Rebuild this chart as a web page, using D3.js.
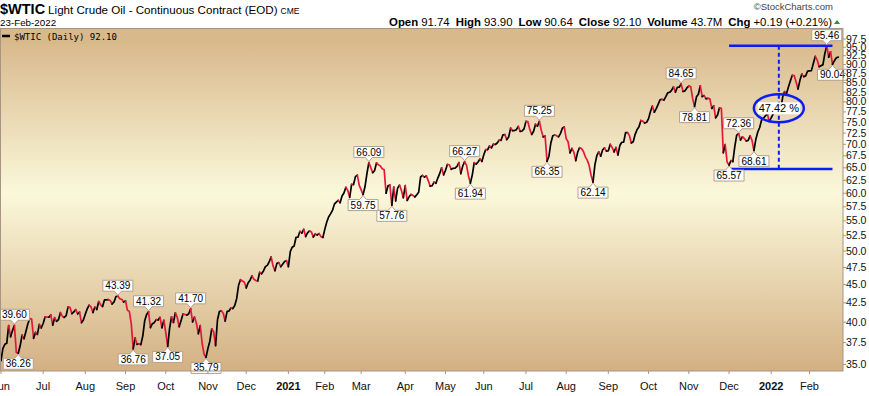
<!DOCTYPE html>
<html>
<head>
<meta charset="utf-8">
<script src="https://cdn.jsdelivr.net/npm/d3@7"></script>
<style>
  body { margin: 0; background: #fff; }
  svg { display: block; font-family: "Liberation Sans", Arial, sans-serif; }
</style>
</head>
<body>
<div class="canvas"></div>
<script>
// daily closes, [month, [[day, close], ...]]
const closes2020 = [
  ['05', [[29, 35.49]]],
  ['06', [[1, 35.44], [2, 36.81], [3, 37.29], [4, 37.41], [5, 39.55], [8, 38.19], [9, 38.94], [10, 39.60], [11, 36.34], [12, 36.26], [15, 37.12], [16, 38.38], [17, 37.96], [18, 38.84], [19, 39.75], [22, 40.46], [23, 40.37], [24, 38.01], [25, 38.72], [26, 38.49], [29, 39.70], [30, 39.27]]],
  ['07', [[1, 39.82], [2, 40.65], [6, 40.63], [7, 40.62], [8, 40.90], [9, 39.62], [10, 40.55], [13, 40.10], [14, 40.29], [15, 41.20], [16, 40.75], [17, 40.59], [20, 40.81], [21, 41.96], [22, 41.90], [23, 41.07], [24, 41.29], [27, 41.60], [28, 41.04], [29, 41.27], [30, 39.92], [31, 40.27]]],
  ['08', [[3, 41.01], [4, 41.70], [5, 42.19], [6, 41.95], [7, 41.22], [10, 41.94], [11, 41.61], [12, 42.67], [13, 42.24], [14, 42.01], [17, 42.89], [18, 42.89], [19, 42.93], [20, 42.82], [21, 42.34], [24, 42.62], [25, 43.35], [26, 43.39], [27, 43.04], [28, 42.97], [31, 42.61]]],
  ['09', [[1, 42.76], [2, 41.51], [3, 41.37], [4, 39.77], [8, 36.76], [9, 38.05], [10, 37.30], [11, 37.33], [14, 37.26], [15, 38.28], [16, 40.16], [17, 40.97], [18, 41.32], [21, 39.31], [22, 39.80], [23, 39.93], [24, 40.31], [25, 40.25], [28, 40.60], [29, 39.29], [30, 40.22]]],
  ['10', [[1, 38.72], [2, 37.05], [5, 39.22], [6, 40.67], [7, 39.95], [8, 41.19], [9, 40.60], [12, 39.43], [13, 40.20], [14, 41.04], [15, 40.96], [16, 40.88], [19, 41.06], [20, 41.70], [21, 40.03], [22, 40.64], [23, 39.85], [26, 38.56], [27, 39.57], [28, 37.39], [29, 36.17], [30, 35.79]]],
  ['11', [[2, 36.81], [3, 37.66], [4, 39.15], [5, 38.79], [6, 37.14], [9, 40.29], [10, 41.36], [11, 41.45], [12, 41.12], [13, 40.13], [16, 41.34], [17, 41.43], [18, 41.82], [19, 41.74], [20, 42.15], [23, 43.06], [24, 44.91], [25, 45.71], [27, 45.53], [30, 45.34]]],
  ['12', [[1, 44.55], [2, 45.28], [3, 45.64], [4, 46.26], [7, 45.76], [8, 45.60], [9, 45.52], [10, 46.78], [11, 46.57], [14, 46.99], [15, 47.62], [16, 47.82], [17, 48.36], [18, 49.10], [21, 47.74], [22, 47.02], [23, 48.12], [24, 48.23], [28, 47.62], [29, 48.00], [30, 48.40], [31, 48.52]]]
]

const closes2021 = [
  ['01', [[4, 47.62], [5, 49.93], [6, 50.63], [7, 50.83], [8, 52.24], [11, 52.25], [12, 53.21], [13, 52.91], [14, 53.57], [15, 52.36], [19, 52.98], [20, 53.31], [21, 53.13], [22, 52.27], [25, 52.77], [26, 52.61], [27, 52.85], [28, 52.34], [29, 52.20]]],
  ['02', [[1, 53.55], [2, 54.76], [3, 55.69], [4, 56.23], [5, 56.85], [8, 57.97], [9, 58.36], [10, 58.68], [11, 58.24], [12, 59.47], [16, 60.05], [17, 61.14], [18, 60.52], [19, 59.24], [22, 61.70], [23, 61.67], [24, 63.22], [25, 63.53], [26, 61.50]]],
  ['03', [[1, 60.64], [2, 59.75], [3, 61.28], [4, 63.83], [5, 66.09], [8, 65.05], [9, 64.01], [10, 64.44], [11, 66.02], [12, 65.61], [15, 65.39], [16, 64.80], [17, 64.60], [18, 60.00], [19, 61.42], [22, 61.55], [23, 57.76], [24, 61.18], [25, 58.56], [26, 60.97], [29, 61.56], [30, 60.55], [31, 59.16]]],
  ['04', [[1, 61.45], [5, 58.65], [6, 59.33], [7, 59.77], [8, 59.60], [9, 59.32], [12, 59.70], [13, 60.18], [14, 63.15], [15, 63.46], [16, 63.13], [19, 63.38], [20, 62.44], [21, 61.35], [22, 61.43], [23, 62.14], [26, 61.91], [27, 62.94], [28, 63.86], [29, 65.01], [30, 63.58]]],
  ['05', [[3, 64.49], [4, 65.69], [5, 65.63], [6, 64.71], [7, 64.90], [10, 64.92], [11, 65.28], [12, 66.08], [13, 63.82], [14, 65.37], [17, 66.27], [18, 65.49], [19, 63.36], [20, 61.94], [21, 63.58], [24, 66.05], [25, 65.76], [26, 66.21], [27, 66.85], [28, 66.32]]],
  ['06', [[1, 67.72], [2, 68.83], [3, 68.81], [4, 69.62], [7, 69.23], [8, 70.05], [9, 69.96], [10, 70.29], [11, 70.91], [14, 70.88], [15, 72.12], [16, 72.15], [17, 71.04], [18, 71.64], [21, 73.66], [22, 73.06], [23, 73.08], [24, 73.30], [25, 74.05], [28, 72.91], [29, 72.98], [30, 73.47]]],
  ['07', [[1, 75.23], [2, 75.16], [6, 73.37], [7, 72.20], [8, 72.94], [9, 74.56], [12, 74.10], [13, 75.25], [14, 73.13], [15, 71.65], [16, 71.81], [19, 66.35], [20, 67.42], [21, 70.30], [22, 71.91], [23, 72.07], [26, 71.91], [27, 71.65], [28, 72.39], [29, 73.62], [30, 73.95]]],
  ['08', [[2, 71.26], [3, 70.56], [4, 68.15], [5, 69.09], [6, 68.28], [9, 66.48], [10, 68.29], [11, 69.25], [12, 69.09], [13, 68.44], [16, 67.29], [17, 66.59], [18, 65.46], [19, 63.50], [20, 62.14], [23, 65.64], [24, 67.54], [25, 68.36], [26, 67.42], [27, 68.74], [30, 69.21], [31, 68.50]]],
  ['09', [[1, 68.59], [2, 69.99], [3, 69.29], [7, 68.35], [8, 69.30], [9, 67.68], [10, 69.72], [13, 70.45], [14, 70.46], [15, 72.61], [16, 72.61], [17, 71.97], [20, 70.29], [21, 70.56], [22, 72.23], [23, 73.30], [24, 73.98], [27, 75.45], [28, 75.29], [29, 74.83], [30, 75.03]]],
  ['10', [[1, 75.88], [4, 77.62], [5, 78.93], [6, 77.43], [7, 78.30], [8, 79.35], [11, 80.52], [12, 80.64], [13, 80.44], [14, 81.31], [15, 82.28], [18, 82.44], [19, 82.96], [20, 83.87], [21, 82.50], [22, 83.76], [25, 83.76], [26, 84.65], [27, 82.66], [28, 82.81], [29, 83.57]]],
  ['11', [[1, 84.05], [2, 83.91], [3, 80.86], [4, 78.81], [5, 81.27], [8, 81.93], [9, 84.15], [10, 81.34], [11, 81.59], [12, 80.79], [15, 80.88], [16, 80.76], [17, 78.36], [18, 79.01], [19, 76.10], [22, 76.75], [23, 78.50], [24, 78.39], [26, 68.15], [29, 69.95], [30, 66.18]]],
  ['12', [[1, 65.57], [2, 66.50], [3, 66.26], [6, 69.49], [7, 72.05], [8, 72.36], [9, 70.94], [10, 71.67], [13, 71.29], [14, 70.73], [15, 70.87], [16, 71.90], [17, 70.86], [20, 68.61], [21, 71.12], [22, 72.76], [23, 73.79], [27, 75.57], [28, 75.98], [29, 76.56], [30, 76.99], [31, 75.21]]]
]

const closes2022 = [
  ['01', [[3, 76.08], [4, 76.99], [5, 77.85], [6, 79.46], [7, 78.90], [10, 78.23], [11, 81.22], [12, 82.64], [13, 82.12], [14, 83.82], [18, 85.43], [19, 86.96], [20, 86.90], [21, 85.14], [24, 83.31], [25, 85.60], [26, 87.35], [27, 86.61], [28, 86.82], [31, 88.15]]],
  ['02', [[1, 88.20], [2, 88.26], [3, 90.27], [4, 92.31], [7, 91.32], [8, 89.36], [9, 89.66], [10, 89.88], [11, 93.10], [14, 95.46], [15, 92.07], [16, 93.66], [17, 90.04], [18, 91.07], [22, 91.91], [23, 92.10]]]
]

// swing-point price flags
const swingLabels = [
  ['2020-06-10', 'high'], ['2020-06-12', 'low'], ['2020-08-26', 'high'], ['2020-09-08', 'low'],
  ['2020-09-18', 'high'], ['2020-10-02', 'low'], ['2020-10-20', 'high'], ['2020-10-30', 'low'],
  ['2021-03-02', 'low'], ['2021-03-05', 'high'], ['2021-03-23', 'low'], ['2021-05-17', 'high'],
  ['2021-05-20', 'low'], ['2021-07-13', 'high'], ['2021-07-19', 'low'], ['2021-08-20', 'low'],
  ['2021-10-26', 'high'], ['2021-11-04', 'low'], ['2021-12-01', 'low'], ['2021-12-08', 'high'],
  ['2021-12-20', 'low'], ['2022-02-14', 'high'], ['2022-02-17', 'low']
]

// month ticks on the x axis
const xTicks = [
  ['2020-06', 'Jun'], ['2020-07', 'Jul'], ['2020-08', 'Aug'], ['2020-09', 'Sep'], ['2020-10', 'Oct'],
  ['2020-11', 'Nov'], ['2020-12', 'Dec'], ['2021-01', '2021'], ['2021-02', 'Feb'], ['2021-03', 'Mar'],
  ['2021-04', 'Apr'], ['2021-05', 'May'], ['2021-06', 'Jun'], ['2021-07', 'Jul'], ['2021-08', 'Aug'],
  ['2021-09', 'Sep'], ['2021-10', 'Oct'], ['2021-11', 'Nov'], ['2021-12', 'Dec'], ['2022-01', '2022'],
  ['2022-02', 'Feb']
]

const yTicks = [35, 37.5, 40, 42.5, 45, 47.5, 50, 52.5, 55, 57.5, 60, 62.5, 65, 67.5, 70, 72.5, 75, 77.5, 80, 82.5, 85, 87.5, 90, 92.5, 95, 97.5]

// rally measurement (Dec low -> Feb high)
const rangeLines = [
  { from: '2021-12-01', to: '2022-02-17', value: 95.46 },
  { from: '2021-12-01', to: '2022-02-17', value: 64.75 }
]
const rangeMarker = { date: '2022-01-07', low: 64.75, high: 95.46, ellipseValue: 78.4, text: '47.42 %' }

const quoteFields = [
  ['Open', '91.74'], ['High', '93.90'], ['Low', '90.64'], ['Close', '92.10'], ['Volume', '43.7M'], ['Chg', '+0.19 (+0.21%)']
]

// flatten to one series
const series = []
const addYear = (year, months) => months.forEach(([m, days]) =>
  days.forEach(([d, c]) => series.push({ date: `${year}-${m}-${String(d).padStart(2, '0')}`, close: c })))
addYear(2020, closes2020)
addYear(2021, closes2021)
addYear(2022, closes2022)
const idxOf = date => series.findIndex(d => d.date === date)

const dims = { width: 869, height: 396 }
const plot = { left: 0, right: 843, top: 29, bottom: 371 }

const svg = d3.select('.canvas')
  .append('svg')
  .attr('width', dims.width)
  .attr('height', dims.height)

const x = d3.scaleLinear()
  .domain([idxOf('2020-06-01'), idxOf('2022-02-01')])
  .range([1, 809.5])

const y = d3.scaleLog()
  .domain([35, 97.5])
  .range([364.5, 39])

// background gradient
const defs = svg.append('defs')
const grad = defs.append('linearGradient')
  .attr('id', 'bg').attr('x1', 0).attr('x2', 0).attr('y1', 0).attr('y2', 1)
grad.append('stop').attr('offset', '0%').attr('stop-color', '#d6b486')
grad.append('stop').attr('offset', '48%').attr('stop-color', '#fbf8da')
grad.append('stop').attr('offset', '100%').attr('stop-color', '#d3b083')

defs.append('clipPath').attr('id', 'clip')
  .append('rect')
  .attr('x', plot.left).attr('y', plot.top)
  .attr('width', plot.right - plot.left).attr('height', plot.bottom - plot.top)

svg.append('rect')
  .attr('x', plot.left).attr('y', plot.top)
  .attr('width', plot.right - plot.left).attr('height', plot.bottom - plot.top)
  .attr('fill', 'url(#bg)')

// legend band
svg.append('rect')
  .attr('x', plot.left).attr('y', plot.top)
  .attr('width', plot.right - plot.left).attr('height', 15)
  .attr('fill', '#d8b98c')

svg.append('line')
  .attr('x1', 2).attr('x2', 10).attr('y1', 36).attr('y2', 36)
  .attr('stroke', '#000').attr('stroke-width', 2.5)

svg.append('text')
  .attr('x', 14).attr('y', 40)
  .attr('font-family', '"DejaVu Sans Mono", "Liberation Mono", monospace')
  .attr('font-size', 9)
  .attr('fill', '#000')
  .text(`$WTIC (Daily) ${series[series.length - 1].close.toFixed(2)}`)

const graph = svg.append('g').attr('clip-path', 'url(#clip)')

// price line, red on down days, black on up days
const pts = series.map((d, i) => ({ ...d, i }))
const runs = []
for (let i = 1; i < pts.length; i++) {
  const down = pts[i].close < pts[i - 1].close
  const last = runs[runs.length - 1]
  if (last && last.down === down) last.pts.push(pts[i])
  else runs.push({ down, pts: [pts[i - 1], pts[i]] })
}
const line = d3.line()
  .x(({ i }) => x(i))
  .y(({ close }) => y(close))

graph.selectAll('.run')
  .data(runs)
  .enter()
  .append('path')
    .attr('class', 'run')
    .attr('fill', 'none')
    .attr('stroke', ({ down }) => down ? '#e3173a' : '#000')
    .attr('stroke-width', 1.7)
    .attr('stroke-linejoin', 'round')
    .attr('stroke-linecap', 'round')
    .attr('d', ({ pts }) => line(pts))

// measurement lines
rangeLines.forEach(({ from, to, value }) => {
  svg.append('line')
    .attr('x1', x(idxOf(from))).attr('x2', x(idxOf(to)))
    .attr('y1', y(value)).attr('y2', y(value))
    .attr('stroke', '#0b1cf5').attr('stroke-width', 2.5)
})
const mx = x(idxOf(rangeMarker.date))
svg.append('line')
  .attr('x1', mx).attr('x2', mx)
  .attr('y1', y(rangeMarker.high)).attr('y2', y(rangeMarker.low))
  .attr('stroke', '#0b1cf5').attr('stroke-width', 2)
  .attr('stroke-dasharray', '4,3')

const pctText = svg.append('text')
  .attr('x', mx).attr('y', y(rangeMarker.ellipseValue) + 4)
  .attr('text-anchor', 'middle')
  .attr('font-size', 11)
  .text(rangeMarker.text)
const pb = pctText.node().getBBox()
svg.insert('rect', () => pctText.node())
  .attr('x', pb.x - 1).attr('y', pb.y)
  .attr('width', pb.width + 2).attr('height', pb.height)
  .attr('fill', '#fff')
svg.append('ellipse')
  .attr('cx', mx).attr('cy', y(rangeMarker.ellipseValue))
  .attr('rx', 25).attr('ry', 14)
  .attr('fill', 'none')
  .attr('stroke', '#0b1cf5').attr('stroke-width', 2.5)

// swing flags
const flags = svg.append('g')
swingLabels.forEach(([date, kind]) => {
  const i = idxOf(date)
  const px = x(i)
  const py = y(series[i].close)
  const g = flags.append('g')
  const outline = g.append('path')
  const t = g.append('text')
    .attr('font-size', 10)
    .attr('text-anchor', 'middle')
    .attr('x', px)
    .text(series[i].close.toFixed(2))
  const tw = t.node().getComputedTextLength()
  const bw = tw + 5
  const bh = 11
  const bx0 = px - bw / 2
  const bx1 = px + bw / 2
  let d
  if (kind === 'high') {
    const by1 = py - 5
    const by0 = by1 - bh
    d = `M${bx0},${by0}H${bx1}V${by1}H${px + 3.5}L${px},${py - 1}L${px - 3.5},${by1}H${bx0}Z`
    t.attr('y', by1 - 2)
  } else {
    const by0 = py + 5
    const by1 = by0 + bh
    d = `M${bx0},${by0}H${px - 3.5}L${px},${py + 1}L${px + 3.5},${by0}H${bx1}V${by1}H${bx0}Z`
    t.attr('y', by1 - 2)
  }
  outline.attr('d', d).attr('fill', '#fff').attr('stroke', '#b4a08e').attr('stroke-width', 1)
})

// frame
svg.append('rect')
  .attr('x', plot.left + 0.5).attr('y', plot.top - 0.5)
  .attr('width', plot.right - plot.left - 0.5).attr('height', plot.bottom - plot.top + 0.5)
  .attr('fill', 'none').attr('stroke', '#a89484').attr('stroke-width', 1)

// right axis
const yAxis = svg.append('g')
yTicks.forEach(v => {
  yAxis.append('line')
    .attr('x1', plot.right).attr('x2', plot.right + 3)
    .attr('y1', y(v)).attr('y2', y(v))
    .attr('stroke', '#a89484')
  yAxis.append('text')
    .attr('x', plot.right + 3).attr('y', y(v) + 3.5)
    .attr('font-size', 10.5)
    .attr('fill', '#111')
    .text(v.toFixed(1))
})

// bottom axis
const xAxis = svg.append('g')
xTicks.forEach(([month, label]) => {
  const i = series.findIndex(d => d.date.startsWith(month))
  const tx = x(i)
  xAxis.append('line')
    .attr('x1', tx).attr('x2', tx)
    .attr('y1', plot.bottom).attr('y2', plot.bottom + 3)
    .attr('stroke', '#a89484')
  xAxis.append('text')
    .attr('x', tx).attr('y', 390)
    .attr('text-anchor', 'middle')
    .attr('font-size', 11)
    .attr('font-weight', /^\d/.test(label) ? 'bold' : 'normal')
    .attr('fill', '#111')
    .text(label)
})

// header
const title = svg.append('text').attr('x', 0).attr('y', 14).attr('fill', '#000')
title.append('tspan').attr('font-size', 14.5).attr('font-weight', 'bold').text('$WTIC')
title.append('tspan').attr('font-size', 11.6).attr('dx', 3).text('Light Crude Oil - Continuous Contract (EOD)')
title.append('tspan').attr('font-size', 8.5).attr('dx', 3).text('CME')

svg.append('text')
  .attr('x', 0).attr('y', 26)
  .attr('font-size', 9.8)
  .text('23-Feb-2022')

svg.append('text')
  .attr('x', 833).attr('y', 10)
  .attr('text-anchor', 'end')
  .attr('font-size', 9.5)
  .attr('fill', '#444')
  .text('\u00a9StockCharts.com')

const quote = svg.append('text')
  .attr('x', 832).attr('y', 26)
  .attr('text-anchor', 'end')
  .attr('font-size', 11.4)
quoteFields.forEach(([k, v], j) => {
  quote.append('tspan').attr('font-weight', 'bold').attr('dx', j ? 6 : 0).text(k)
  quote.append('tspan').attr('dx', 3).text(v)
})
svg.append('path')
  .attr('d', 'M834,24L837,20L840,24Z')
  .attr('fill', '#1d9a22')
</script>
</body>
</html>
